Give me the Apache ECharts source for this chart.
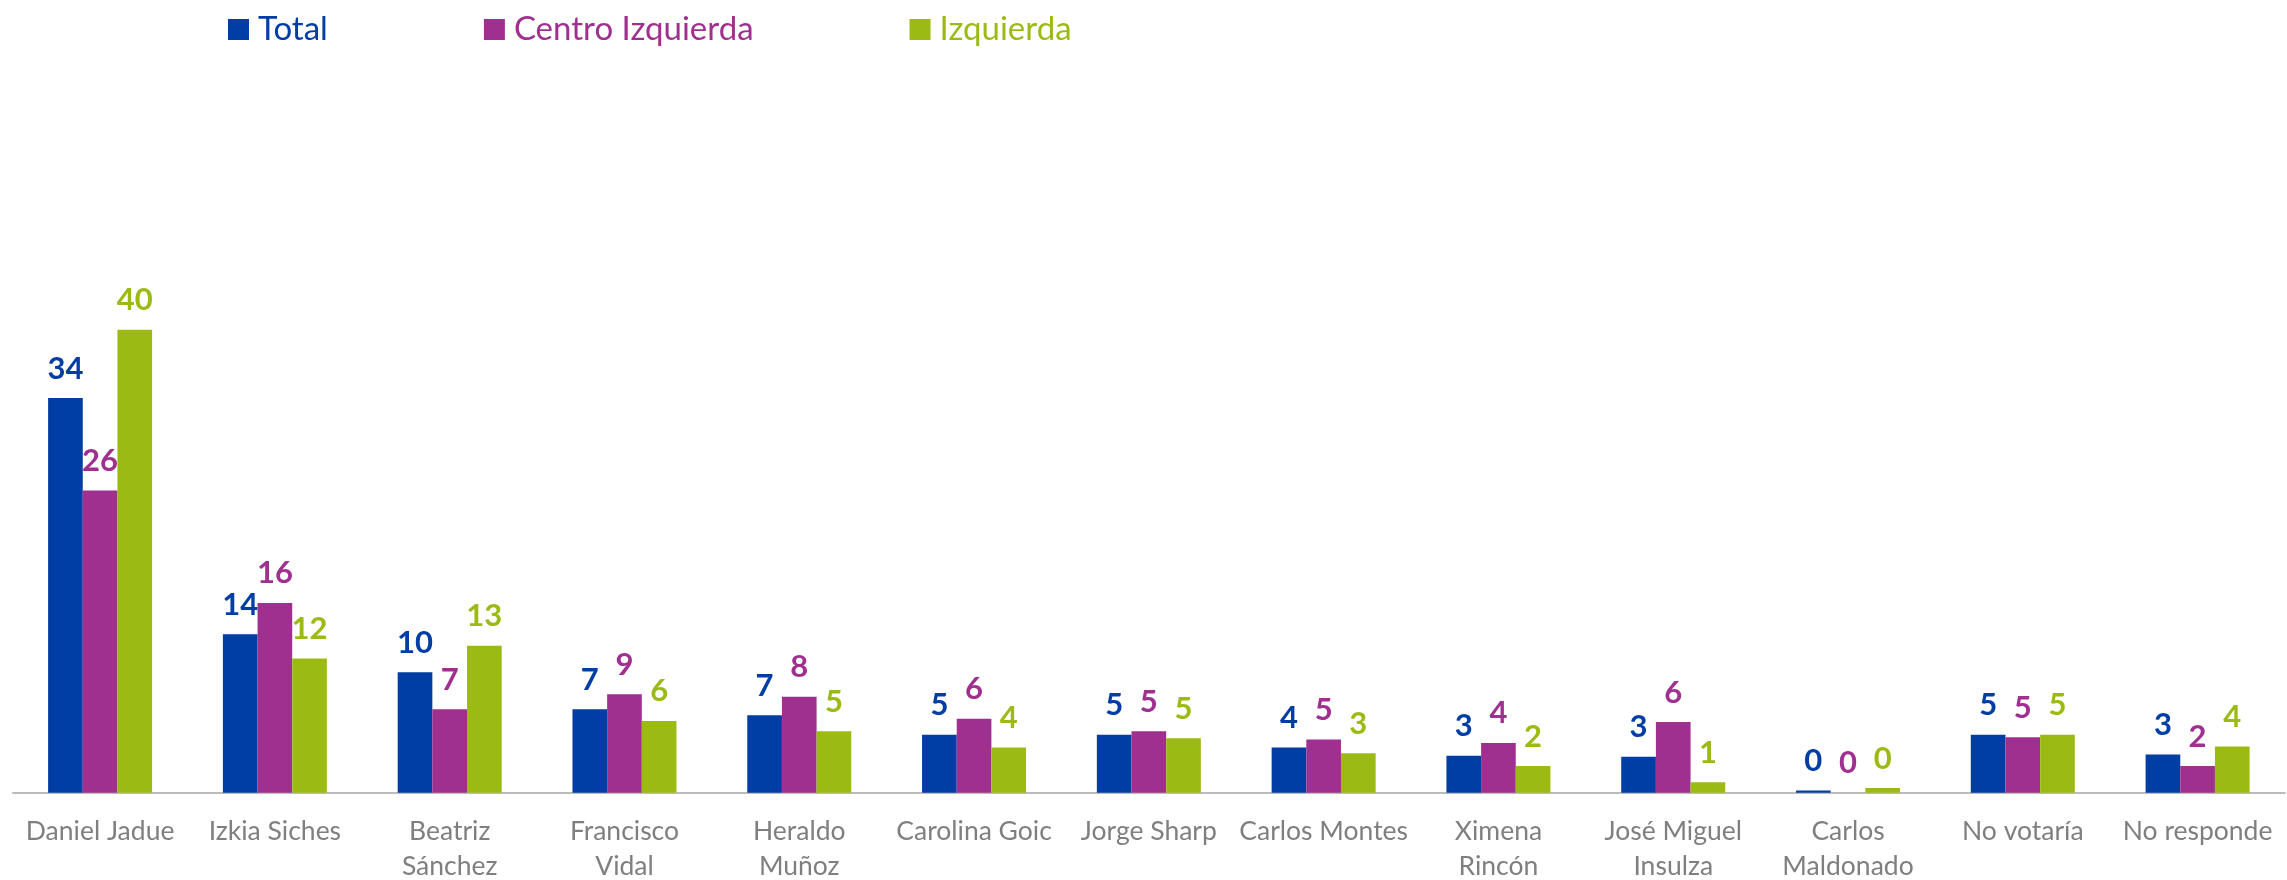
<!DOCTYPE html>
<html>
<head>
<meta charset="utf-8">
<script src="https://cdn.jsdelivr.net/npm/echarts@6/dist/echarts.min.js"></script>
<style>
html,body{margin:0;padding:0;background:#fff;}
#c{width:2287px;height:880px;}
</style>
</head>
<body>
<div id="c"></div>
<script>
const categories = ["Daniel Jadue","Izkia Siches","Beatriz\nSánchez","Francisco\nVidal","Heraldo\nMuñoz","Carolina Goic","Jorge Sharp","Carlos Montes","Ximena\nRincón","José Miguel\nInsulza","Carlos\nMaldonado","No votaría","No responde"];
const seriesNames = ["Total","Centro Izquierda","Izquierda"];
const total = [34.1, 13.7, 10.4, 7.2, 6.7, 5.0, 5.0, 3.9, 3.2, 3.1, 0.2, 5.0, 3.3];
const centroIzquierda = [26.1, 16.4, 7.2, 8.5, 8.3, 6.4, 5.3, 4.6, 4.3, 6.1, 0, 4.8, 2.3];
const izquierda = [40.0, 11.6, 12.7, 6.2, 5.3, 3.9, 4.7, 3.4, 2.3, 0.9, 0.4, 5.0, 4.0];
const colors = ["#003DA5", "#A0308F", "#9BBB14"];

const FONT = "Lato, 'Open Sans', sans-serif";
const chart = echarts.init(document.getElementById('c'), null, {renderer:'canvas'});
const allData = [total, centroIzquierda, izquierda];
chart.setOption({
  animation: false,
  legend: {
    left: 223, top: 8,
    itemWidth: 21, itemHeight: 21, itemGap: 156,
    icon: 'rect',
    textStyle: {fontFamily: FONT, fontSize: 33, padding: [0,0,0,4]},
    data: seriesNames.map((n,i)=>({name:n, textStyle:{color:colors[i]}}))
  },
  grid: {left: 12.7, right: 2, top: 214, bottom: 87.3, containLabel: false, outerBoundsMode: 'none'},
  xAxis: {
    type: 'category',
    data: categories,
    axisLine: {lineStyle: {color: '#A6A6A6', width: 1.5}},
    axisTick: {length: 9, lineStyle: {color: '#A6A6A6', width: 1.5}},
    axisLabel: {fontFamily: FONT, fontSize: 26.5, color: '#7F7F7F', lineHeight: 35, margin: 21, interval: 0}
  },
  yAxis: {type: 'value', min: 0, max: 50, show: false, splitLine: {show: false}},
  series: seriesNames.map((n,i)=>({
    name: n,
    type: 'bar',
    data: allData[i],
    barGap: 0,
    barCategoryGap: '40.5%',
    itemStyle: {color: colors[i]},
    label: {
      show: true, position: 'top', distance: 14,
      fontFamily: FONT, fontSize: 31, fontWeight: 'bold', color: colors[i],
      formatter: p => Math.round(p.value)
    }
  }))
});
</script>
</body>
</html>
